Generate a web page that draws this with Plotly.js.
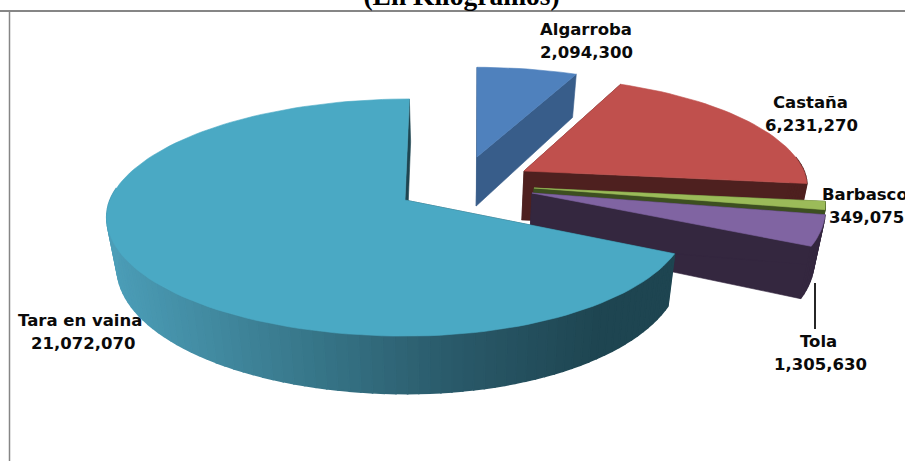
<!DOCTYPE html>
<html><head><meta charset="utf-8">
<script src="https://cdn.plot.ly/plotly-3.0.1.min.js"></script>
<style>html,body{margin:0;padding:0;background:#fff}#c{width:905px;height:461px}</style>
</head><body><div id="c"></div>
<script>
// ---- data ----
const categories = ["Algarroba", "Castaña", "Barbasco", "Tola", "Tara en vaina"];
const values = [2094300, 6231270, 349075, 1305630, 21072070];
const chartTitle = "(En Kilogramos)";

// ---- styles ----
const topColors = ["#4f81bd", "#c0504d", "#9bbb59", "#8064a2", "#4aa9c4"];
const sideColors = ["#385d8a", "#4e201f", "#3d4f20", "#34273f", "#1e4551"];
const taraSideStops = [[105, [76,158,184]], [300, [56,120,139]], [450, [42,90,106]], [600, [30,69,81]], [680, [30,69,81]]];

// ---- projection of the tilted, exploded pie: [apexX, apexY, Rright, Rleft, Ry, skew] per slice ----
const placement = [
  [477, 157, 274, 274, 103, 0],
  [524, 171, 280, 280, 108, -6],
  [534, 188, 288, 288, 115, 0],
  [532, 193, 290, 290, 115, 0],
  [405, 200, 280, 295, 116, 5]
];
const persp = 0.148, depth = 49, vanishX = 452, shrink = 0.97;

const total = values.reduce((a, b) => a + b, 0);
const toRad = Math.PI / 180;
function rimPoint(p, deg) {
  const u = Math.sin(deg * toRad), v = Math.cos(deg * toRad), s = 1 / (1 + persp * v);
  const R = u >= 0 ? p[2] : p[3];
  return {x: p[0] + R * u * s + p[5] * Math.max(v, 0) * s, y: p[1] - p[4] * v * s, s};
}
function drop(pt, s) {
  return {x: vanishX + (pt.x - vanishX) * shrink, y: pt.y + depth * s};
}
function poly(pts, color, name, lineWidth) {
  const xs = pts.map(q => q.x), ys = pts.map(q => q.y);
  xs.push(xs[0]); ys.push(ys[0]);
  return {type: "scatter", mode: "lines", x: xs, y: ys, fill: "toself", fillcolor: color,
    line: {color: color, width: lineWidth || 0.6}, hoverinfo: "name", name: name, showlegend: false};
}
function taraColor(x) {
  for (let i = 0; i < taraSideStops.length - 1; i++) {
    const a = taraSideStops[i], b = taraSideStops[i + 1];
    if (x <= b[0]) {
      const t = Math.max(0, (x - a[0]) / (b[0] - a[0]));
      return "rgb(" + a[1].map((c, k) => Math.round(c + (b[1][k] - c) * t)).join(",") + ")";
    }
  }
  return "rgb(30,69,81)";
}

const traces = [];
let start = 0;
const ranges = values.map(val => { const r = [start, start + val / total * 360]; start = r[1]; return r; });
categories.forEach((name, i) => {
  const p = placement[i], [a0, a1] = ranges[i];
  const apexTop = {x: p[0], y: p[1]};
  const apexBot = drop(apexTop, 1);
  const n = Math.max(4, Math.round((a1 - a0) / 2));
  const arc = [];
  for (let k = 0; k <= n; k++) arc.push(rimPoint(p, a0 + (a1 - a0) * k / n));
  // cut face at the end of the slice
  const last = arc[n], first = arc[0];
  traces.push(poly([apexTop, last, drop(last, last.s), apexBot], sideColors[i], name));
  // cut face at the start of the slice
  traces.push(poly([apexTop, first, drop(first, first.s), apexBot], sideColors[i], name));
  // outer wall, as narrow strips so that it can be shaded
  for (let k = 0; k < n; k++) {
    const a = arc[k], b = arc[k + 1];
    if (Math.cos((a0 + (a1 - a0) * (k + .5) / n) * toRad) > 0.12) continue;
    const col = i === 4 ? taraColor((a.x + b.x) / 2) : sideColors[i];
    traces.push(poly([a, b, drop(b, b.s), drop(a, a.s)], col, name, 1.6));
  }
  // top face
  traces.push(poly([apexTop].concat(arc), topColors[i], name));
});

// ---- labels ----
const labelSpots = [[586, 29, 586, 52], [810, 102, 811, 125], [823, 194, 830, 217], [818, 341, 820, 364], [80, 320, 83, 343]];
const labelAnchors = ["center", "center", "left", "center", "center"];
const fmt = v => v.toLocaleString("en-US");
const annotations = [];
categories.forEach((name, i) => {
  const s = labelSpots[i];
  [[name, s[0], s[1]], [fmt(values[i]), s[2], s[3]]].forEach(t => annotations.push({
    x: t[1], y: t[2], xref: "x", yref: "y", text: t[0], showarrow: false,
    xanchor: labelAnchors[i], yanchor: "middle", xshift: labelAnchors[i] === "left" ? -3 : 0,
    font: {family: "DejaVu Sans", size: 16.5, color: "#0a0a0a", weight: 700}
  }));
});

const layout = {
  width: 905, height: 461, margin: {l: 0, r: 0, t: 0, b: 0},
  paper_bgcolor: "#fff", plot_bgcolor: "#fff", showlegend: false,
  title: {text: chartTitle, x: 0.51, xref: "paper", xanchor: "center", y: 0.99, yref: "container", yanchor: "bottom",
    font: {family: "Liberation Serif", size: 27.5, color: "#000", weight: 700}},
  xaxis: {range: [0, 905], visible: false, fixedrange: true},
  yaxis: {range: [461, 0], visible: false, fixedrange: true},
  shapes: [
    {type: "line", xref: "x", yref: "y", x0: 0, x1: 905, y0: 11, y1: 11, line: {color: "#868686", width: 2}},
    {type: "line", xref: "x", yref: "y", x0: 9.5, x1: 9.5, y0: 11, y1: 461, line: {color: "#868686", width: 1.5}},
    {type: "line", xref: "x", yref: "y", x0: 815, x1: 815, y0: 283, y1: 329, line: {color: "#000", width: 1.7}}
  ],
  annotations
};
Plotly.newPlot("c", traces, layout, {displayModeBar: false, staticPlot: true});
</script>
</body></html>
